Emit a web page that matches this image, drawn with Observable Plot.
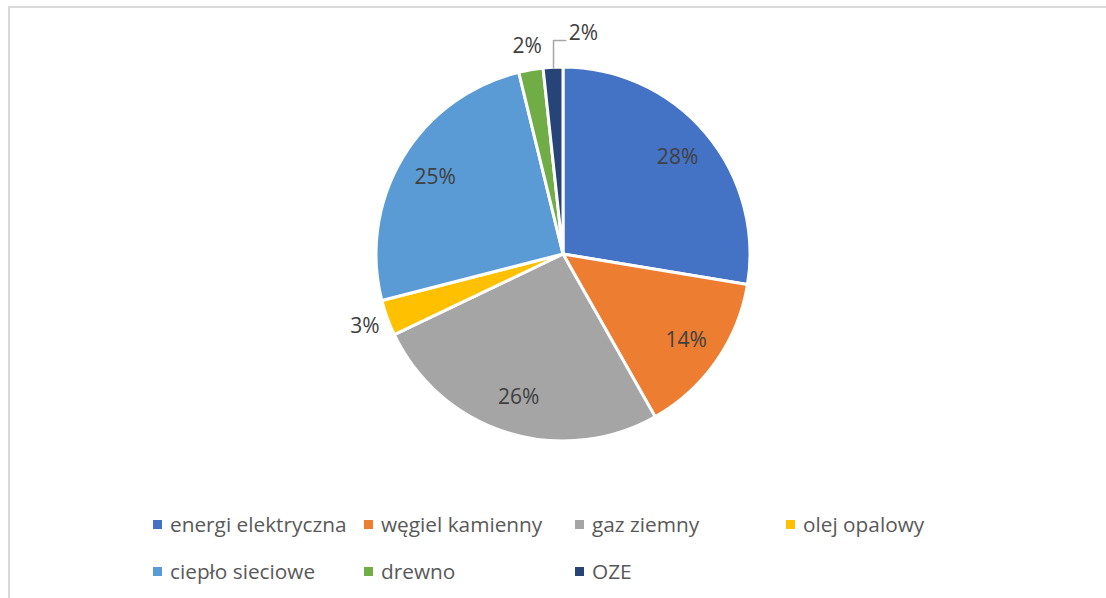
<!DOCTYPE html>
<html><head><meta charset="utf-8">
<script src="https://cdn.jsdelivr.net/npm/d3@7"></script>
<script src="https://cdn.jsdelivr.net/npm/@observablehq/plot@0.6"></script>
<style>
body{margin:0;background:#fff;width:1106px;height:598px;overflow:hidden;position:relative;font-family:"Open Sans",sans-serif;}
#frame{position:absolute;left:8px;top:6px;width:1200px;height:700px;border-top:2px solid #d9d9d9;border-left:2px solid #d9d9d9;}
#chart{position:absolute;left:0;top:0;}
#legend{position:absolute;left:0;top:0;}
.item{position:absolute;display:flex;align-items:center;height:28px;line-height:28px;font-size:20.8px;color:#595959;white-space:nowrap;}
.sw{width:9px;height:9px;margin-right:8px;flex:none;}
</style></head><body>
<div id="frame"></div>
<div id="chart"></div>
<div id="legend"></div>
<script>
const categories = ["energi elektryczna","węgiel kamienny","gaz ziemny","olej opalowy","ciepło sieciowe","drewno","OZE"];
const values = [27.6, 14.2, 26.1, 3.1, 25.2, 2.1, 1.7];
const labels = ["28%","14%","26%","3%","25%","2%","2%"];
const colors = ["#4472C4","#ED7D31","#A5A5A5","#FFC000","#5B9BD5","#70AD47","#264478"];

const W = 1106, H = 490, CX = 563, CY = 254, R = 187;
const arcs = d3.pie().sort(null).value(d => d)(values);

const table = arcs.map((a, i) => {
  const mid = (a.startAngle + a.endAngle) / 2;
  const r = values[i] >= 5 ? 0.8 : 1.13;
  return {category: categories[i], label: labels[i], mid, x: r * Math.sin(mid), y: r * Math.cos(mid)};
});
// OZE label is moved out with a leader line
const oze = table[6];
const leader = [
  [Math.sin(oze.mid), Math.cos(oze.mid)],
  [Math.sin(oze.mid), 1.144],
  [0.012, 1.144]
];
oze.x = 0.107; oze.y = 1.185;

function pieMark(index, scales) {
  const cx = scales.x(0), cy = scales.y(0), rad = scales.x(1) - scales.x(0);
  const g = d3.create("svg:g").attr("transform", `translate(${cx},${cy})`);
  const arc = d3.arc().innerRadius(0).outerRadius(rad);
  g.selectAll("path").data(arcs).join("path")
    .attr("d", arc)
    .attr("fill", (d, i) => colors[i])
    .attr("stroke", "#fff").attr("stroke-width", 3).attr("stroke-linejoin", "round");
  return g.node();
}

const plot = Plot.plot({
  width: W, height: H, margin: 0,
  x: {domain: [-CX / R, (W - CX) / R], axis: null},
  y: {domain: [-(H - CY) / R, CY / R], axis: null},
  style: {background: "transparent", overflow: "visible"},
  marks: [
    pieMark,
    Plot.line(leader, {x: d => d[0], y: d => d[1], stroke: "#a6a6a6", strokeWidth: 1.5}),
    Plot.text(table, {x: "x", y: "y", text: "label", fontSize: 21, fill: "#404040", fontFamily: "Open Sans"})
  ]
});
document.getElementById("chart").appendChild(plot);

const leg = document.getElementById("legend");
categories.forEach((c, i) => {
  const col = i % 4, row = Math.floor(i / 4);
  const d = document.createElement("div");
  d.className = "item";
  d.style.left = (153 + col * 211) + "px";
  d.style.top = (524 + row * 47 - 14) + "px";
  d.innerHTML = `<span class="sw" style="background:${colors[i]}"></span><span>${c}</span>`;
  leg.appendChild(d);
});
</script>
</body></html>
